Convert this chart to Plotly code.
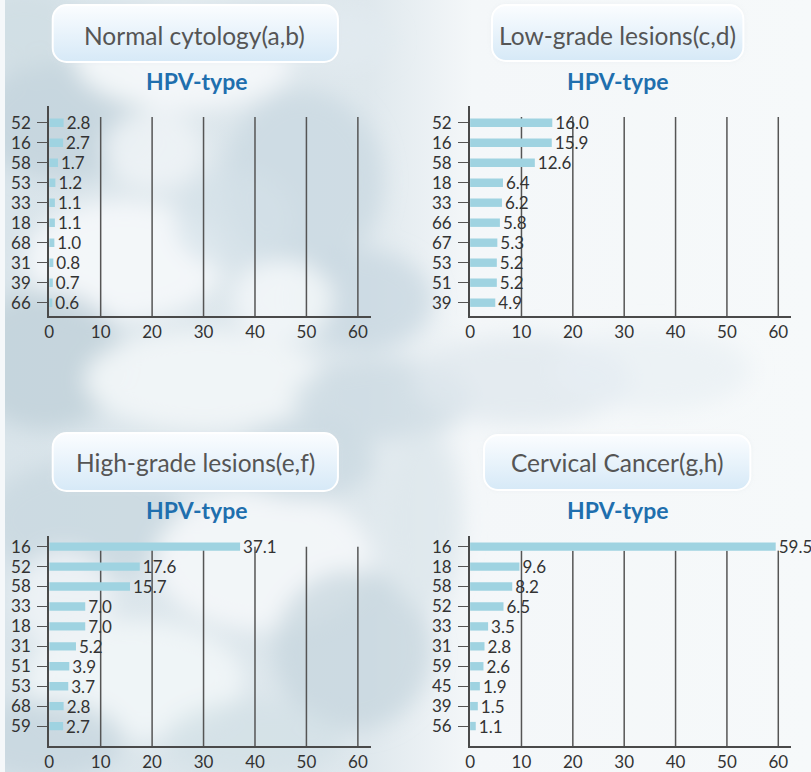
import base64
import plotly.graph_objects as go

# ---------------- data ----------------
normal_types = ["52", "16", "58", "53", "33", "18", "68", "31", "39", "66"]
normal_vals = [2.8, 2.7, 1.7, 1.2, 1.1, 1.1, 1.0, 0.8, 0.7, 0.6]

low_types = ["52", "16", "58", "18", "33", "66", "67", "53", "51", "39"]
low_vals = [16.0, 15.9, 12.6, 6.4, 6.2, 5.8, 5.3, 5.2, 5.2, 4.9]

high_types = ["16", "52", "58", "33", "18", "31", "51", "53", "68", "59"]
high_vals = [37.1, 17.6, 15.7, 7.0, 7.0, 5.2, 3.9, 3.7, 2.8, 2.7]

cancer_types = ["16", "18", "58", "52", "33", "31", "59", "45", "39", "56"]
cancer_vals = [59.5, 9.6, 8.2, 6.5, 3.5, 2.8, 2.6, 1.9, 1.5, 1.1]

titles = ["Normal cytology(a,b)", "Low-grade lesions(c,d)",
          "High-grade lesions(e,f)", "Cervical Cancer(g,h)"]
subtitle = "HPV-type"
x_ticks = [0, 10, 20, 30, 40, 50, 60]

# ---------------- geometry / style ----------------
W, H = 811, 772
FONT = "Lato"
BAR_COLOR = "#9fd3e1"
AX_COLOR = "#4a4a4a"
TXT = 17

# plot areas in pixels: (x0, x1, ytop, ybottom)
areas = [(44.5, 368, 106, 316), (468, 791, 106, 316),
         (44.5, 368, 536, 746), (468, 791, 536, 746)]
yranges = [[9.665, -0.835], [9.665, -0.835], [10.0, -0.535], [10.0, -0.535]]
grid_top = [-0.285, -0.285, 0.0, 0.2]
xmax = 62.5

boxes = [(48, 335, 5, 62), (490, 743, 5, 61), (48, 335, 433, 491), (482, 750, 435, 490)]
title_centers = [(191, 35), (616, 35), (192, 462), (616, 462)]
sub_centers = [(193, 81), (617, 81), (193, 510), (617, 510)]

# ---------------- background (decoration) ----------------
blobs = [
    # cx, cy, rx, ry, color, opacity
    (60, 120, 90, 60, "#c3d3dc", 0.8), (180, 60, 110, 50, "#f4f8fa", 0.95),
    (300, 180, 80, 90, "#cbdae2", 0.8), (120, 260, 100, 60, "#f4f8fa", 0.95),
    (360, 300, 70, 50, "#c6d6df", 0.7), (40, 360, 80, 70, "#c0d1da", 0.8),
    (200, 380, 120, 50, "#f1f6f8", 0.95), (380, 400, 90, 40, "#cad9e1", 0.7),
    (520, 380, 110, 45, "#e0e9ee", 0.8), (650, 370, 100, 40, "#e8eff3", 0.7),
    (80, 520, 100, 60, "#c9d8e0", 0.8), (260, 560, 110, 70, "#f3f7f9", 0.95),
    (350, 650, 80, 80, "#c4d4dd", 0.7), (130, 680, 110, 60, "#f0f5f8", 0.95),
    (40, 740, 80, 40, "#c7d6de", 0.8), (250, 740, 90, 40, "#d2dfe6", 0.7),
    (420, 520, 40, 90, "#dde7ec", 0.8), (230, 220, 60, 50, "#d4e1e8", 0.7),
    (20, 30, 60, 40, "#d0dde4", 0.8), (330, 40, 60, 30, "#e2ebf0", 0.8),
    (150, 150, 50, 40, "#eef3f6", 0.9), (280, 300, 50, 40, "#f2f6f8", 0.9),
    (60, 600, 50, 50, "#eef3f6", 0.9), (300, 460, 70, 40, "#c8d7df", 0.7),
]
blob_svg = "".join(
    f'<ellipse cx="{cx}" cy="{cy}" rx="{rx}" ry="{ry}" fill="{c}" fill-opacity="{o}"/>'
    for cx, cy, rx, ry, c, o in blobs)
box_svg = "".join(
    f'<rect x="{x0}" y="{y0}" width="{x1 - x0}" height="{y1 - y0}" rx="14" ry="14" '
    f'fill="url(#box)" stroke="#ffffff" stroke-width="2"/>'
    for x0, x1, y0, y1 in boxes)
svg = f'''<svg xmlns="http://www.w3.org/2000/svg" width="{W}" height="{H}" viewBox="0 0 {W} {H}" preserveAspectRatio="none">
<defs>
<linearGradient id="box" x1="0" y1="0" x2="0" y2="1"><stop offset="0" stop-color="#fbfdff"/><stop offset="1" stop-color="#d6e9f7"/></linearGradient>
<linearGradient id="left" x1="0" y1="0" x2="1" y2="0"><stop offset="0" stop-color="#d9e4ea"/><stop offset="0.45" stop-color="#dfe8ed"/><stop offset="0.58" stop-color="#f4f7f9"/><stop offset="1" stop-color="#f6f9fa"/></linearGradient>
<filter id="blur" x="-50%" y="-50%" width="200%" height="200%"><feGaussianBlur stdDeviation="11"/></filter>
<filter id="shadow" x="-20%" y="-20%" width="140%" height="160%"><feGaussianBlur stdDeviation="3"/></filter>
</defs>
<rect width="{W}" height="{H}" fill="url(#left)"/>
<g filter="url(#blur)">{blob_svg}</g>
<g filter="url(#shadow)" opacity="0.25">{box_svg.replace('url(#box)', '#9fb4c2')}</g>
{box_svg}
</svg>'''
bg_uri = "data:image/svg+xml;base64," + base64.b64encode(svg.encode()).decode()

# ---------------- figure ----------------
fig = go.Figure()
series = [(normal_types, normal_vals), (low_types, low_vals),
          (high_types, high_vals), (cancer_types, cancer_vals)]

layout = dict(
    width=W, height=H, margin=dict(l=0, r=0, t=0, b=0),
    paper_bgcolor="#f5f8fa", plot_bgcolor="rgba(0,0,0,0)",
    showlegend=False, font=dict(family=FONT, color="#333333", size=TXT),
    images=[dict(source=bg_uri, xref="paper", yref="paper", x=0, y=1,
                 sizex=1, sizey=1, sizing="stretch", xanchor="left",
                 yanchor="top", layer="below")],
)
shapes = []
annotations = []

for i, ((types, vals), (x0, x1, yt, yb)) in enumerate(zip(series, areas)):
    n = "" if i == 0 else str(i + 1)
    xa, ya = "x" + n, "y" + n
    pos = list(range(len(types)))
    fig.add_trace(go.Bar(
        x=vals, y=pos, orientation="h", xaxis=xa, yaxis=ya,
        marker=dict(color=BAR_COLOR, line=dict(width=0)), width=0.42,
        text=[f"{v:.1f}" for v in vals], textposition="outside",
        textfont=dict(family=FONT, size=TXT, color="#333333"),
        cliponaxis=False, constraintext="none", hoverinfo="skip"))
    layout["xaxis" + n] = dict(
        domain=[x0 / W, x1 / W], anchor=ya, range=[0, xmax],
        tickvals=x_ticks, ticktext=[str(t) for t in x_ticks],
        showgrid=False, zeroline=False, showline=True, linecolor=AX_COLOR,
        linewidth=2, ticks="", tickfont=dict(family=FONT, size=TXT, color="#333333"))
    layout["yaxis" + n] = dict(
        domain=[1 - yb / H, 1 - yt / H], anchor=xa, range=yranges[i],
        tickvals=pos, ticktext=types, showgrid=False, zeroline=False,
        showline=True, linecolor=AX_COLOR, linewidth=2, ticks="outside",
        ticklen=10, tickwidth=1, tickcolor="#555555", ticklabelstandoff=3,
        tickfont=dict(family=FONT, size=TXT, color="#333333"))
    for t in x_ticks[1:]:
        shapes.append(dict(type="line", xref=xa, yref=ya, x0=t, x1=t,
                           y0=yranges[i][0], y1=grid_top[i], layer="below",
                           line=dict(color="#555555", width=1.5)))
    tx, ty = title_centers[i]
    annotations.append(dict(text=titles[i], x=tx / W, y=1 - ty / H, xref="paper",
                            yref="paper", showarrow=False, xanchor="center",
                            yanchor="middle",
                            font=dict(family=FONT, size=24.5, color="#555555")))
    sx, sy = sub_centers[i]
    annotations.append(dict(text="<b>" + subtitle + "</b>", x=sx / W, y=1 - sy / H,
                            xref="paper", yref="paper", showarrow=False,
                            xanchor="center", yanchor="middle",
                            font=dict(family=FONT, size=23, color="#1f6fae")))

layout["shapes"] = shapes
layout["annotations"] = annotations
fig.update_layout(**layout)

fig.write_html("out.html", config={"displayModeBar": False},
               post_script="document.body.style.margin='0';document.body.style.overflow='hidden';")
